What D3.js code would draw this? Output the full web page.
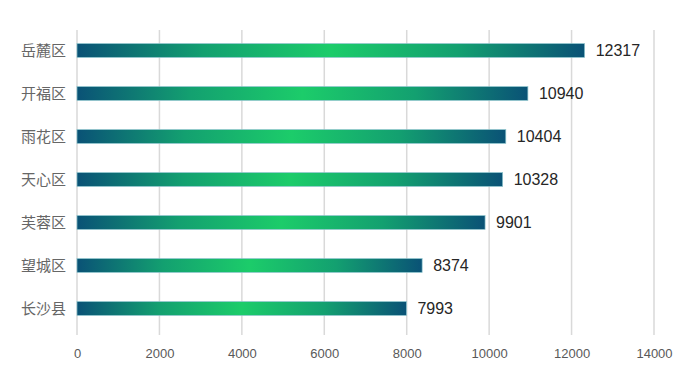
<!DOCTYPE html>
<html><head><meta charset="utf-8">
<script src="https://cdn.jsdelivr.net/npm/d3@7/dist/d3.min.js"></script>
<style>body{margin:0;background:#fff}</style>
</head><body>
<svg id="c" width="687" height="390"></svg>
<script>
const categories = ["岳麓区","开福区","雨花区","天心区","芙蓉区","望城区","长沙县"];
const values = [12317,10940,10404,10328,9901,8374,7993];
const tickValues = [0,2000,4000,6000,8000,10000,12000,14000];

const svg = d3.select("#c");
const x = d3.scaleLinear().domain([0,14000]).range([77,654]);
const y = d3.scaleBand().domain(categories).range([29,330]).paddingInner(0.68).paddingOuter(0.34);

const defs = svg.append("defs");
const g = defs.append("linearGradient").attr("id","grad").attr("x1","0%").attr("x2","100%").attr("y1","0%").attr("y2","0%");
g.append("stop").attr("offset","0%").attr("stop-color","#0a5276");
g.append("stop").attr("offset","25%").attr("stop-color","#13a070");
g.append("stop").attr("offset","50%").attr("stop-color","#1ccc6a");
g.append("stop").attr("offset","75%").attr("stop-color","#13a070");
g.append("stop").attr("offset","100%").attr("stop-color","#0a5276");

// gridlines
svg.append("g").selectAll("line").data(tickValues).join("line")
  .attr("x1",d=>x(d)).attr("x2",d=>x(d)).attr("y1",30).attr("y2",335)
  .attr("stroke","#d9d9d9").attr("stroke-width",1.5);

// axis
const ax = svg.append("g").attr("transform","translate(0,335)")
  .call(d3.axisBottom(x).tickValues(tickValues).tickSize(0).tickPadding(14).tickFormat(d3.format("d")));
ax.select(".domain").remove();
ax.selectAll("text").attr("font-family","Liberation Sans, Arial, sans-serif").attr("font-size",13).attr("fill","#595959");

// bars
svg.append("g").selectAll("rect").data(values).join("rect")
  .attr("x",x(0)).attr("y",(d,i)=>y(categories[i]))
  .attr("width",d=>x(d)-x(0)).attr("height",y.bandwidth())
  .attr("fill","url(#grad)").attr("stroke","#8cc4cc").attr("stroke-width",0.7);

// value labels
svg.append("g").selectAll("text").data(values).join("text")
  .attr("x",d=>x(d)+11).attr("y",(d,i)=>y(categories[i])+y.bandwidth()/2)
  .attr("dy","0.36em").attr("font-family","Liberation Sans, Arial, sans-serif").attr("font-size",16).attr("fill","#262626")
  .text(d=>d);

// category labels
svg.append("g").selectAll("text").data(categories).join("text")
  .attr("x",66).attr("y",d=>y(d)+y.bandwidth()/2).attr("dy","0.36em")
  .attr("text-anchor","end").attr("font-family","Noto Sans CJK SC, sans-serif").attr("font-size",15).attr("fill","#666666")
  .text(d=>d);
</script>
</body></html>
